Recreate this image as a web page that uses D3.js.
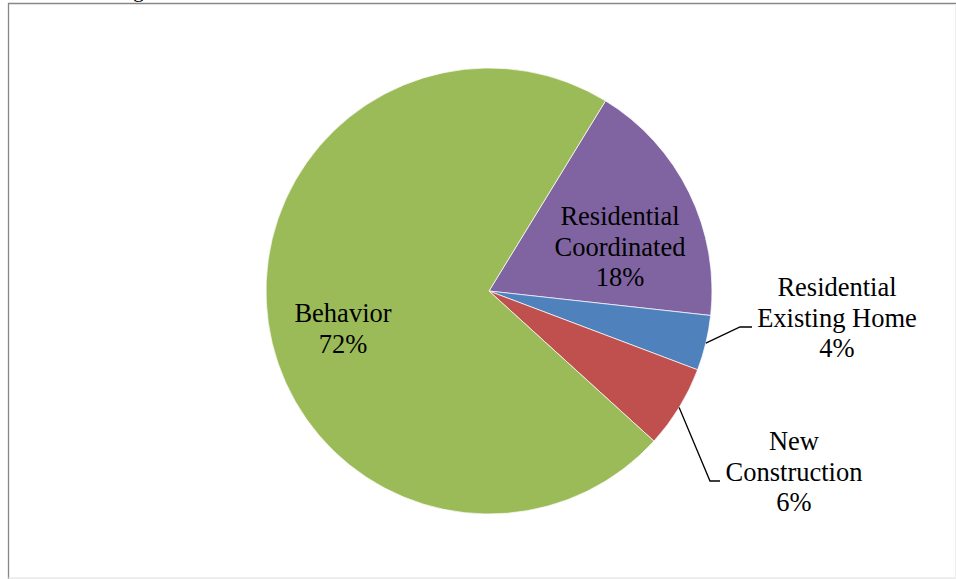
<!DOCTYPE html>
<html>
<head>
<meta charset="utf-8">
<script src="https://cdn.jsdelivr.net/npm/d3@7"></script>
<style>
  html, body { margin: 0; padding: 0; background: #fff; }
  svg { display: block; }
  text { font-family: "Liberation Serif", "Times New Roman", serif; fill: #000; }
</style>
</head>
<body>
<svg id="chart" width="956" height="579"></svg>
<script>
// Share of savings by program
const categories = ["Residential Coordinated", "Residential Existing Home", "New Construction", "Behavior"];
const values = [18, 4, 6, 72];
const labelLines = [
  ["Residential", "Coordinated"],
  ["Residential", "Existing Home"],
  ["New", "Construction"],
  ["Behavior"]
];
const colors = ["#8064A2", "#4F81BD", "#C0504D", "#9BBB59"];

const svg = d3.select("#chart");
const W = 956, H = 579;

// chart frame
svg.append("line").attr("x1", 8).attr("x2", W).attr("y1", 3.5).attr("y2", 3.5)
  .attr("stroke", "#878787").attr("stroke-width", 1.3);
svg.append("line").attr("x1", 8.5).attr("x2", 8.5).attr("y1", 3).attr("y2", H)
  .attr("stroke", "#878787").attr("stroke-width", 1.3);
svg.append("line").attr("x1", 8).attr("x2", W).attr("y1", 578).attr("y2", 578)
  .attr("stroke", "#dcdcdc").attr("stroke-width", 1);
svg.append("line").attr("x1", 955.5).attr("x2", 955.5).attr("y1", 4).attr("y2", H)
  .attr("stroke", "#efefef").attr("stroke-width", 1);

// clipped heading above the frame
svg.append("text").attr("x", 133).attr("y", -3).attr("font-size", 22).text("g");

const cx = 489, cy = 291, r = 223;
const deg = Math.PI / 180;

const pie = d3.pie().sort(null).value(d => d)
  .startAngle(31.5 * deg).endAngle(391.5 * deg);
const arcs = pie(values);
const arc = d3.arc().innerRadius(0).outerRadius(r);

const g = svg.append("g").attr("transform", `translate(${cx},${cy})`);
g.selectAll("path").data(arcs).join("path")
  .attr("d", arc)
  .attr("fill", (d, i) => colors[i])
  .attr("stroke", "#fff")
  .attr("stroke-width", 0.7);

// label placement (relative to pie centre) and leader elbows for outside labels
const labelPos = [
  { x: 131, y: -66, inside: true },
  { x: 348, y: 5, inside: false, elbow: [251, 36], end: [263, 36] },
  { x: 305, y: 159, inside: false, elbow: [221, 190], end: [231, 190] },
  { x: -146, y: 31, inside: true }
];
const lineH = 30.5;

arcs.forEach((a, i) => {
  const p = labelPos[i];
  const lines = labelLines[i].concat([d3.format(".0f")(a.data) + "%"]);
  const t = g.append("text")
    .attr("text-anchor", "middle")
    .attr("font-size", 26.5);
  lines.forEach((s, k) => {
    t.append("tspan").attr("x", p.x).attr("y", p.y + k * lineH).text(s);
  });
  if (!p.inside) {
    const mid = (a.startAngle + a.endAngle) / 2;
    const sx = r * Math.sin(mid), sy = -r * Math.cos(mid);
    g.append("polyline")
      .attr("points", [[sx, sy], p.elbow, p.end].map(q => q.join(",")).join(" "))
      .attr("fill", "none")
      .attr("stroke", "#000")
      .attr("stroke-width", 1.3);
  }
});
</script>
</body>
</html>
